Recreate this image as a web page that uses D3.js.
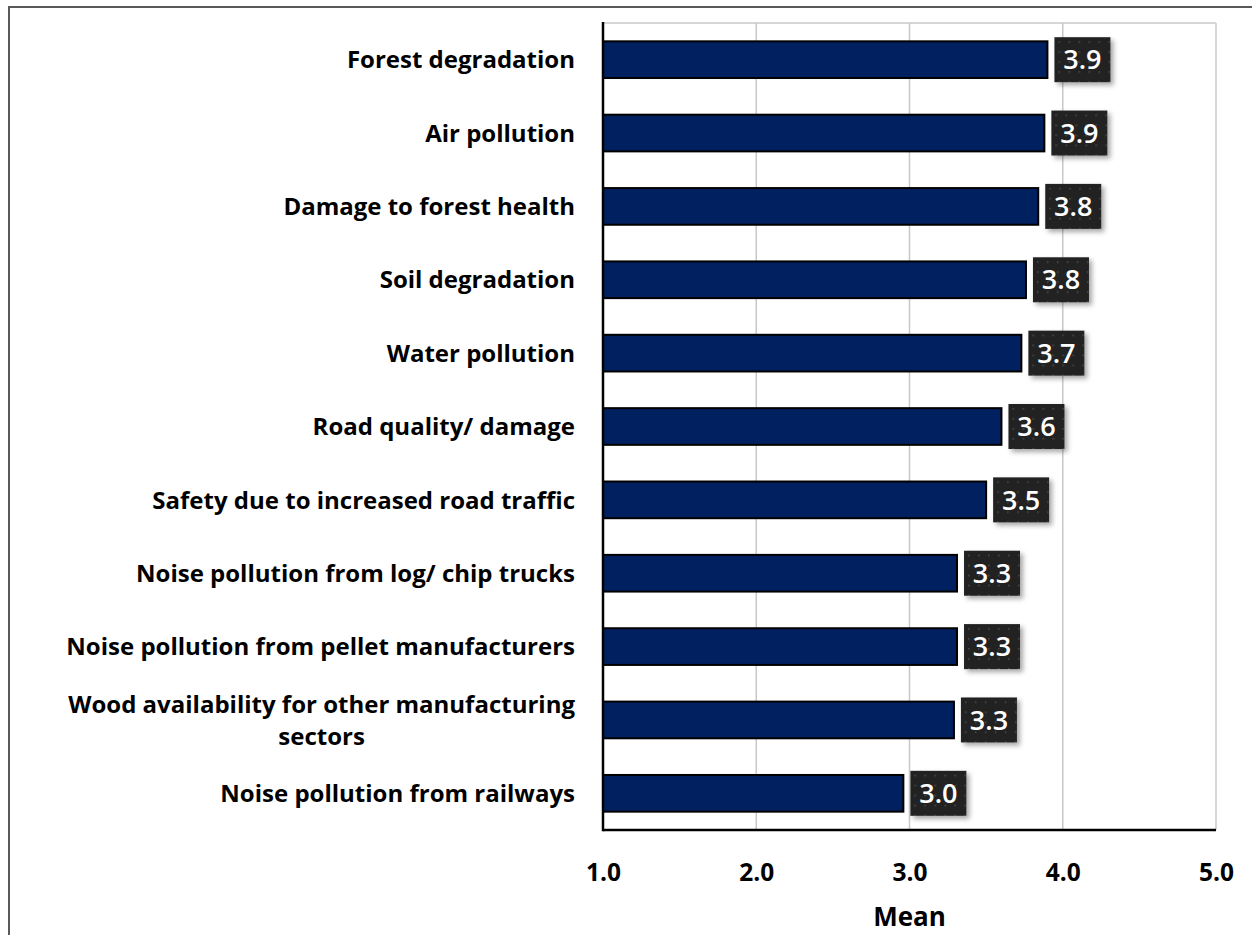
<!DOCTYPE html>
<html>
<head>
<meta charset="utf-8">
<script src="https://cdn.jsdelivr.net/npm/d3@7/dist/d3.min.js"></script>
<style>
  html, body { margin: 0; padding: 0; background: #fff; }
  svg { display: block; }
  text { font-family: "Open Sans", Lato, sans-serif; font-weight: bold; }
</style>
</head>
<body>
<svg id="chart" width="1252" height="935"></svg>
<script>
const categories = [
  "Forest degradation",
  "Air pollution",
  "Damage to forest health",
  "Soil degradation",
  "Water pollution",
  "Road quality/ damage",
  "Safety due to increased road traffic",
  "Noise pollution from log/ chip trucks",
  "Noise pollution from pellet manufacturers",
  "Wood availability for other manufacturing sectors",
  "Noise pollution from railways"
];
const values = [3.90, 3.88, 3.84, 3.76, 3.73, 3.60, 3.50, 3.31, 3.31, 3.29, 2.96];
const valueLabels = ["3.9", "3.9", "3.8", "3.8", "3.7", "3.6", "3.5", "3.3", "3.3", "3.3", "3.0"];
const xTicks = [1, 2, 3, 4, 5];
const xTickLabels = ["1.0", "2.0", "3.0", "4.0", "5.0"];
const xTitle = "Mean";

const svg = d3.select("#chart");
const pLeft = 603, pRight = 1216, pTop = 23, pBottom = 830;

// outer frame
svg.append("path")
  .attr("d", "M9,935 L9,7 L1252,7")
  .attr("fill", "none").attr("stroke", "#595959").attr("stroke-width", 2);

const defs = svg.append("defs");
const pat = defs.append("pattern").attr("id", "dots")
  .attr("width", 10).attr("height", 10).attr("patternUnits", "userSpaceOnUse");
pat.append("rect").attr("width", 10).attr("height", 10).attr("fill", "#242424");
pat.append("rect").attr("x", 4).attr("y", 4).attr("width", 1.5).attr("height", 1.5).attr("fill", "#4a4a4a");
const f = defs.append("filter").attr("id", "shadow").attr("x", "-30%").attr("y", "-30%").attr("width", "160%").attr("height", "160%");
f.append("feDropShadow").attr("dx", 3).attr("dy", 3).attr("stdDeviation", 2.5)
  .attr("flood-color", "#000").attr("flood-opacity", 0.35);

const x = d3.scaleLinear().domain([1, 5]).range([pLeft, pRight]);
const y = d3.scaleBand().domain(categories).range([pTop, pBottom]).paddingInner(0.5).paddingOuter(0.25);

// gridlines
svg.append("g").selectAll("line").data(xTicks.slice(1)).join("line")
  .attr("x1", d => x(d)).attr("x2", d => x(d)).attr("y1", pTop).attr("y2", pBottom)
  .attr("stroke", "#c8c8c8").attr("stroke-width", 1.5);
svg.append("line").attr("x1", pLeft).attr("x2", pRight).attr("y1", pTop).attr("y2", pTop)
  .attr("stroke", "#c8c8c8").attr("stroke-width", 1.5);

// bars
svg.append("g").selectAll("rect").data(categories).join("rect")
  .attr("x", pLeft).attr("y", d => y(d))
  .attr("width", (d, i) => x(values[i]) - pLeft)
  .attr("height", y.bandwidth())
  .attr("fill", "#002060").attr("stroke", "#000").attr("stroke-width", 2);

// value label boxes
const bw = 56, bh = 45;
const lg = svg.append("g").selectAll("g").data(categories).join("g")
  .attr("transform", (d, i) => `translate(${x(values[i]) + 7},${y(d) + y.bandwidth() / 2 - bh / 2})`);
lg.append("rect").attr("width", bw).attr("height", bh).attr("fill", "url(#dots)").attr("filter", "url(#shadow)");
lg.append("text").attr("x", bw / 2).attr("y", bh / 2).attr("dy", "0.36em")
  .attr("text-anchor", "middle").attr("fill", "#fff").attr("font-size", 27)
  .style("font-weight", 600)
  .text((d, i) => valueLabels[i]);

// axes
const xAxis = d3.axisBottom(x).tickValues(xTicks).tickFormat((d, i) => xTickLabels[i]).tickSize(0).tickPadding(0);
const gx = svg.append("g").attr("transform", `translate(0,${pBottom})`).call(xAxis);
gx.select(".domain").remove();
gx.selectAll("text").attr("font-size", 24.5).attr("fill", "#000").attr("y", 42).attr("dy", "0.36em")
  .style("font-family", "'Open Sans'").style("font-weight", "bold");

svg.append("line").attr("x1", pLeft).attr("x2", pRight).attr("y1", pBottom).attr("y2", pBottom)
  .attr("stroke", "#000").attr("stroke-width", 2.5);
svg.append("line").attr("x1", pLeft).attr("x2", pLeft).attr("y1", pTop - 1).attr("y2", pBottom + 1.25)
  .attr("stroke", "#000").attr("stroke-width", 2.5);

svg.append("text").attr("x", x(3)).attr("y", 917).attr("dy", "0.36em")
  .attr("text-anchor", "middle").attr("font-size", 26).attr("fill", "#000").text(xTitle);

// category labels
const labelRight = 575;
const fs = 24;
const cg = svg.append("g");
categories.forEach((c, i) => {
  const cy = y(c) + y.bandwidth() / 2;
  if (c.startsWith("Wood availability")) {
    const lines = ["Wood availability for other manufacturing", "sectors"];
    const t1 = cg.append("text").attr("class", "cat").attr("x", labelRight).attr("y", cy - 16).attr("dy", "0.36em")
      .attr("text-anchor", "end").attr("font-size", fs).attr("fill", "#000").text(lines[0]);
    const w = t1.node().getComputedTextLength();
    cg.append("text").attr("class", "cat").attr("x", labelRight - w / 2).attr("y", cy + 16).attr("dy", "0.36em")
      .attr("text-anchor", "middle").attr("font-size", fs).attr("fill", "#000").text(lines[1]);
  } else {
    cg.append("text").attr("class", "cat").attr("x", labelRight).attr("y", cy).attr("dy", "0.36em")
      .attr("text-anchor", "end").attr("font-size", fs).attr("fill", "#000").text(c);
  }
});
</script>
</body>
</html>
